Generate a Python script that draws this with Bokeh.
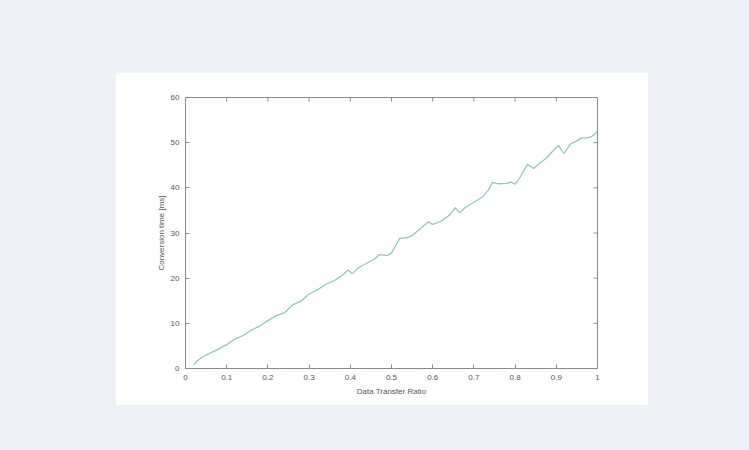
from bokeh.plotting import figure
from bokeh.models import FixedTicker, Range1d, Spacer
from bokeh.layouts import column, row
from bokeh.embed import file_html
from bokeh.resources import INLINE

ratio = [0.02, 0.03, 0.04, 0.06, 0.08, 0.10, 0.12, 0.14, 0.16, 0.18, 0.20, 0.22, 0.24,
         0.26, 0.28, 0.30, 0.32, 0.34, 0.36, 0.38, 0.395, 0.405, 0.42, 0.44, 0.46, 0.47,
         0.49, 0.50, 0.52, 0.54, 0.55, 0.57, 0.59, 0.60, 0.62, 0.64, 0.655, 0.665, 0.68,
         0.70, 0.72, 0.735, 0.745, 0.76, 0.78, 0.79, 0.80, 0.81, 0.83, 0.845, 0.86, 0.875,
         0.89, 0.905, 0.918, 0.935, 0.95, 0.96, 0.97, 0.985, 0.995, 1.0]
conv_time = [0.8, 1.8, 2.5, 3.4, 4.3, 5.3, 6.5, 7.3, 8.5, 9.4, 10.6, 11.7, 12.3,
             14.1, 14.9, 16.5, 17.4, 18.6, 19.4, 20.6, 21.8, 21.0, 22.3, 23.3, 24.3, 25.2,
             25.0, 25.6, 28.8, 29.0, 29.4, 31.0, 32.5, 31.9, 32.6, 33.9, 35.6, 34.5, 35.7,
             36.8, 37.9, 39.5, 41.2, 40.9, 41.0, 41.3, 40.8, 42.0, 45.2, 44.3, 45.5, 46.5,
             48.0, 49.4, 47.6, 49.8, 50.4, 51.0, 51.0, 51.3, 52.0, 52.7]
x_ticks = [0, 0.1, 0.2, 0.3, 0.4, 0.5, 0.6, 0.7, 0.8, 0.9, 1]
y_ticks = [0, 10, 20, 30, 40, 50, 60]

FONT = "Liberation Sans"
AX = "#8a8a8a"
TXT = "#555555"
PAGE = "#eef0f8"

X0, X1, Y0, Y1 = 0, 1, 0, 60

p = figure(width=533, height=333, output_backend="svg", toolbar_location=None,
           x_range=Range1d(X0, X1), y_range=Range1d(Y0, Y1),
           x_axis_label="Data Transfer Ratio", y_axis_label="Conversion time [ms]",
           min_border_left=70, min_border_right=51, min_border_top=25, min_border_bottom=37)
p.border_fill_color = "white"
p.background_fill_color = "white"
p.outline_line_color = AX
p.grid.visible = False

p.xaxis.ticker = FixedTicker(ticks=x_ticks)
p.yaxis.ticker = FixedTicker(ticks=y_ticks)

for ax in p.axis:
    ax.axis_line_color = AX
    ax.major_tick_line_color = AX
    ax.major_tick_in = 4
    ax.major_tick_out = 0
    ax.minor_tick_line_color = None
    ax.major_label_text_font = FONT
    ax.major_label_text_font_size = "8px"
    ax.major_label_text_color = TXT
    ax.axis_label_text_font = FONT
    ax.axis_label_text_font_size = "8px"
    ax.axis_label_text_font_style = "normal"
    ax.axis_label_text_color = TXT

p.xaxis.major_label_standoff = 6
p.xaxis.axis_label_standoff = 4
p.yaxis.major_label_standoff = 6
p.yaxis.axis_label_standoff = 2

# inward ticks on the top and right edges of the box (MATLAB style)
tick_len_y = 4 * (Y1 - Y0) / 271
tick_len_x = 4 * (X1 - X0) / 412
p.segment(x0=x_ticks, y0=[Y1] * len(x_ticks), x1=x_ticks, y1=[Y1 - tick_len_y] * len(x_ticks),
          line_color=AX, line_width=1)
p.segment(x0=[X1] * len(y_ticks), y0=y_ticks, x1=[X1 - tick_len_x] * len(y_ticks), y1=y_ticks,
          line_color=AX, line_width=1)

p.line(ratio, conv_time, line_color="#94c4c6", line_width=1.3)

layout = column(
    Spacer(width=749, height=72),
    row(Spacer(width=115, height=333), p, Spacer(width=101, height=333)),
    Spacer(width=749, height=45),
    styles={"background-color": PAGE},
)

open("out.html", "w").write(file_html(layout, INLINE))
